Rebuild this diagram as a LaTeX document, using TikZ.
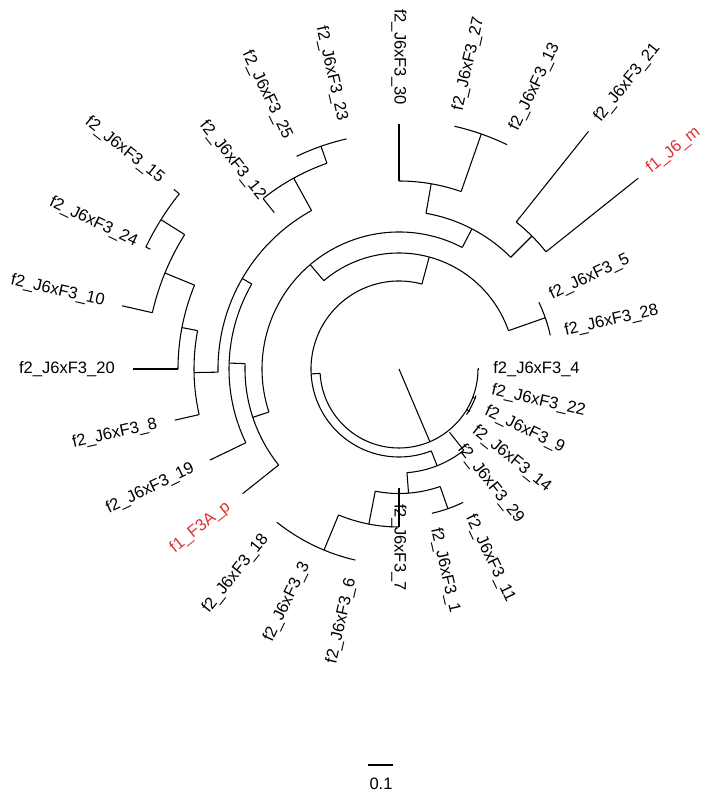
\documentclass[tikz,border=0pt]{standalone}
\usepackage{fontspec}
\setmainfont{Liberation Sans}
\definecolor{lred}{RGB}{220,50,50}
\newcommand\cladearc[3]{\draw[edge] (#1:#3) arc[start angle=#1, end angle=#2, radius=#3*0.75pt];}
\newcommand\brch[4]{\coordinate (#1a) at (#2:#3); \coordinate (#1) at (#2:#4); \draw[edge] (#1a) -- (#1);}
\begin{document}
\begin{tikzpicture}[x=0.75pt,y=0.75pt,
  edge/.style={line width=0.8pt},
  lab/.style={inner sep=0pt, font=\fontsize{12.4}{14}\selectfont},
  redlab/.style={lab, text=lred}]
\useasboundingbox (-399,-430) rectangle (306,369);
% root
\coordinate (root) at (0,0);
\coordinate (R) at (-67:79);
\draw[edge] (root) -- (R);
\cladearc{-176.8}{0}{79}
% small cluster of 4,22,9,14
\cladearc{-34}{-19}{81.5}
\brch{k1}{-21}{79}{82}
\brch{k2}{-31}{79}{82.5}
\brch{t4}{0}{79}{80}
% P
\brch{P}{183.2}{79}{88} \cladearc{74.9}{291.5}{88}
% Q
\brch{Q}{74.9}{88}{116} \cladearc{19.3}{130.4}{116}
\brch{F}{19.3}{116}{155} \cladearc{12.6}{25.5}{155}
% S
\brch{S}{130.4}{116}{137} \cladearc{62.5}{198.3}{137}
\brch{T}{62.5}{137}{158} \cladearc{45}{80.15}{158}
\brch{U}{80.15}{158}{188} \cladearc{70.7}{90}{188}
\brch{t30}{90}{188}{245}
\brch{V}{70.7}{188}{249} \cladearc{64.286}{77.143}{249}
\brch{G}{45}{158}{188} \cladearc{38.571}{51.429}{188}
\brch{t21}{51.429}{188}{304}
\brch{tm}{38.571}{188}{306}
% DD
\brch{DD}{198.3}{137}{154} \cladearc{178}{218.571}{154}
\brch{tF3A}{218.571}{154}{200}
\brch{CC}{178}{154}{170} \cladearc{150}{205.714}{170}
\brch{t19}{205.714}{170}{210}
\brch{Z}{150}{170}{181} \cladearc{118.9}{181}{181}
\brch{AA}{118.9}{181}{218} \cladearc{109.3}{128.571}{218}
\brch{t12}{128.571}{218}{200}
\brch{BB}{109.3}{218}{236} \cladearc{102.857}{115.714}{236}
\brch{Y}{181}{181}{205} \cladearc{169.2}{192.857}{205}
\brch{t8}{192.857}{205}{230}
\brch{X}{169.2}{205}{221} \cladearc{157.7}{180}{221}
\brch{t20}{180}{221}{266}
\brch{W}{157.7}{221}{253} \cladearc{147.9}{167.143}{253}
\brch{t10}{167.143}{253}{284}
\brch{H}{147.9}{253}{281} \cladearc{141.429}{154.286}{281}
\brch{t15}{141.429}{281}{288}
\brch{t24}{154.286}{281}{276}
% Nb
\brch{Nb}{-68.5}{88}{104} \cladearc{-85.6}{-51.429}{104}
\brch{t29}{-51.429}{104}{81}
\brch{Na}{-85.6}{104}{124.5} \cladearc{-101}{-70.7}{124.5}
\brch{E}{-70.7}{124.5}{148} \cladearc{-77.143}{-64.286}{148}
\brch{M}{-101}{124.5}{158} \cladearc{-112.5}{-90}{158}
\brch{t7}{-90}{158}{119}
\brch{D}{-112.5}{158}{196} \cladearc{-128.571}{-102.857}{196}
% labels right side
\node[lab,anchor=west,rotate=0] (l4) at (0:94) {f2\_J6xF3\_4};
\node[lab,anchor=west,rotate=-12.857] (l22) at (-12.857:95) {f2\_J6xF3\_22};
\node[lab,anchor=west,rotate=-25.714] (l9) at (-25.714:96) {f2\_J6xF3\_9};
\node[lab,anchor=west,rotate=-38.571] (l14) at (-38.571:96) {f2\_J6xF3\_14};
\node[lab,anchor=west,rotate=-51.429] (l29) at (-51.429:99) {f2\_J6xF3\_29};
\node[lab,anchor=west,rotate=-64.286] (l11) at (-64.286:163) {f2\_J6xF3\_11};
\node[lab,anchor=west,rotate=-77.143] (l1) at (-77.143:163) {f2\_J6xF3\_1};
\node[lab,anchor=west,rotate=-90] (l7) at (-90:135) {f2\_J6xF3\_7};
\node[lab,anchor=west,rotate=12.857] (l28) at (12.857:170) {f2\_J6xF3\_28};
\node[lab,anchor=west,rotate=25.714] (l5) at (25.714:168) {f2\_J6xF3\_5};
\node[redlab,anchor=west,rotate=38.571] (lm) at (38.571:319) {f1\_J6\_m};
\node[lab,anchor=west,rotate=51.429] (l21) at (51.429:318) {f2\_J6xF3\_21};
\node[lab,anchor=west,rotate=64.286] (l13) at (64.286:265) {f2\_J6xF3\_13};
\node[lab,anchor=west,rotate=77.143] (l27) at (77.143:265) {f2\_J6xF3\_27};
% labels left side
\node[lab,anchor=east,rotate=-90] (l30) at (90:264) {f2\_J6xF3\_30};
\node[lab,anchor=east,rotate=-77.143] (l23) at (102.857:255) {f2\_J6xF3\_23};
\node[lab,anchor=east,rotate=-64.286] (l25) at (115.714:256) {f2\_J6xF3\_25};
\node[lab,anchor=east,rotate=-51.429] (l12) at (128.571:219) {f2\_J6xF3\_12};
\node[lab,anchor=east,rotate=-38.571] (l15) at (141.429:303) {f2\_J6xF3\_15};
\node[lab,anchor=east,rotate=-25.714] (l24) at (154.286:291) {f2\_J6xF3\_24};
\node[lab,anchor=east,rotate=-12.857] (l10) at (167.143:302) {f2\_J6xF3\_10};
\node[lab,anchor=east,rotate=0] (l20) at (180:284) {f2\_J6xF3\_20};
\node[lab,anchor=east,rotate=12.857] (l8) at (192.857:248) {f2\_J6xF3\_8};
\node[lab,anchor=east,rotate=25.714] (l19) at (205.714:228) {f2\_J6xF3\_19};
\node[redlab,anchor=east,rotate=38.571] (lF3A) at (218.571:218) {f1\_F3A\_p};
\node[lab,anchor=east,rotate=51.429] (l18) at (231.429:214) {f2\_J6xF3\_18};
\node[lab,anchor=east,rotate=64.286] (l3) at (244.286:215) {f2\_J6xF3\_3};
\node[lab,anchor=east,rotate=77.143] (l6) at (257.143:215) {f2\_J6xF3\_6};
% scale bar
\coordinate (sb1) at (-31,-396);
\coordinate (sb2) at (-6,-396);
\draw[edge] (sb1) -- (sb2);
\node[lab] (sbl) at (-18,-415) {0.1};
\end{tikzpicture}
\end{document}
